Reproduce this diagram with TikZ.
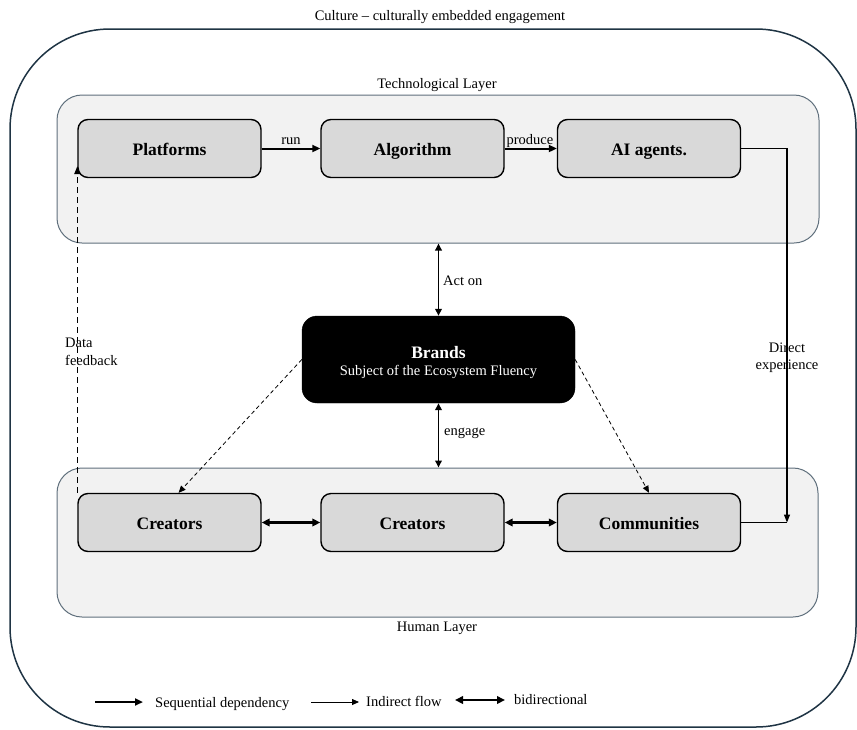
\documentclass[tikz,border=0pt]{standalone}
\usepackage{fontspec}
\setmainfont{Liberation Serif}
\usetikzlibrary{arrows.meta}
\definecolor{layerfill}{HTML}{F2F2F2}
\definecolor{layeredge}{HTML}{5F6F7C}
\definecolor{outeredge}{HTML}{1F3444}
\definecolor{boxfill}{HTML}{D9D9D9}
\tikzset{
  smallfont/.style={font=\fontsize{14.5pt}{17.5pt}\selectfont},
  layerbox/.style={draw=layeredge, line width=1pt, fill=layerfill, rounded corners=25pt, inner sep=0pt},
  entity/.style={draw=black, line width=1.4pt, fill=boxfill, rounded corners=10pt,
    minimum width=183pt, minimum height=58pt, inner sep=0pt, text height=13pt, text depth=0pt,
    font=\fontsize{17.5pt}{21pt}\selectfont\bfseries},
  brandbox/.style={draw=black, fill=black, rounded corners=15pt, minimum width=273pt,
    minimum height=87pt, inner sep=0pt, text=white, align=center, smallfont},
  seqarrow/.style={line width=2pt, -{Triangle[length=8pt,width=7pt]}},
  bidir/.style={line width=2.4pt, {Triangle[length=8pt,width=7.5pt]}-{Triangle[length=8pt,width=7.5pt]}},
  actarrow/.style={line width=1.8pt, {Triangle[length=7pt,width=6.5pt]}-{Triangle[length=7pt,width=6.5pt]}},
  indirect/.style={line width=0.8pt, dash pattern=on 4pt off 3pt, -{Triangle[length=7pt,width=6pt]}},
  feedback/.style={line width=1.3pt, dash pattern=on 6pt off 4pt, -{Triangle[length=8pt,width=6pt]}},
  direct/.style={line width=1.3pt, -{Triangle[length=8pt,width=6pt]}},
  thinarrow/.style={line width=0.8pt, -{Triangle[length=7pt,width=6pt]}},
  lbl/.style={smallfont, inner sep=0pt},
}
\begin{document}
\begin{tikzpicture}[x=1pt,y=-1pt]
\useasboundingbox (0,0) rectangle (857,729);
% culture boundary
\draw[outeredge, line width=1.5pt, rounded corners=100pt] (10,29) rectangle (856,727);
\node[lbl, anchor=base] (culture) at (440,20) {Culture -- culturally embedded engagement};

% layers
\node[layerbox, minimum width=762pt, minimum height=148pt] (tech) at (438,169) {};
\node[lbl, anchor=base] (techlbl) at (437,88) {Technological Layer};
\node[layerbox, minimum width=761pt, minimum height=149pt] (human) at (437.5,542.5) {};
\node[lbl, anchor=base] (humanlbl) at (437,631) {Human Layer};

% entities
\node[entity] (pl) at (169.5,148.5) {Platforms};
\node[entity] (al) at (412.5,148.5) {Algorithm};
\node[entity] (ai) at (649,148.5) {AI agents.};
\node[entity] (cr1) at (169.5,522.5) {Creators};
\node[entity] (cr2) at (412.5,522.5) {Creators};
\node[entity] (comm) at (649,522.5) {Communities};

\node[brandbox] (brand) at (438.5,359.5)
  {\rule{0pt}{18pt}{\fontsize{17.5pt}{18pt}\selectfont\bfseries Brands}\\Subject of the Ecosystem Fluency};

% technological chain
\draw[seqarrow] (pl) -- (al);
\node[lbl, anchor=base] (runlbl) at (291,144) {run};
\draw[seqarrow] (al) -- (ai);
\node[lbl, anchor=base] (prodlbl) at (530,144) {produce};

% direct experience
\coordinate (dj) at (787,522.5);
\draw[direct] (ai.east) -| (dj);
\draw[line width=1.3pt] (comm.east) -- (dj);
\node[lbl, align=center] (dexp) at (787,357.5) {Direct\\experience};

% data feedback
\draw[feedback] (cr1.north west) -- ([yshift=12pt]pl.south west);
\node[lbl, align=left, anchor=west] (dfb) at (65,352) {Data\\feedback};

% brand relations
\draw[actarrow] (brand.north) -- (brand.north |- tech.south);
\node[lbl, anchor=base west] (acton) at (443,285) {Act on};
\draw[actarrow] (brand.south) -- (brand.south |- human.north);
\node[lbl, anchor=base west] (engage) at (444,435) {engage};
\draw[indirect] (brand.west) -- (cr1.73);
\draw[indirect] (brand.east) -- (comm.north);

% human chain
\draw[bidir] (cr1) -- (cr2);
\draw[bidir] (cr2) -- (comm);

% legend
\coordinate (l1a) at (95,702);
\coordinate (l1b) at (143,702);
\draw[seqarrow] (l1a) -- (l1b);
\node[lbl, anchor=base west] (leg1) at (155,707) {Sequential dependency};
\coordinate (l2a) at (311,702);
\coordinate (l2b) at (359,702);
\draw[thinarrow] (l2a) -- (l2b);
\node[lbl, anchor=base west] (leg2) at (366,706) {Indirect flow};
\coordinate (l3a) at (455,700);
\coordinate (l3b) at (505,700);
\draw[bidir] (l3a) -- (l3b);
\node[lbl, anchor=base west] (leg3) at (514,704) {bidirectional};
\end{tikzpicture}
\end{document}
